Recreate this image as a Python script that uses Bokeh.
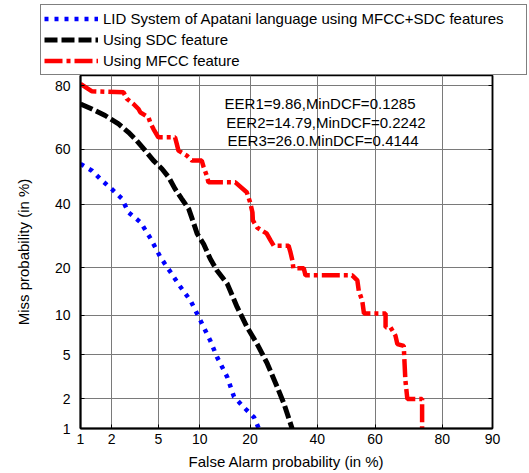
from statistics import NormalDist
from bokeh.plotting import figure
from bokeh.layouts import column, row
from bokeh.models import (FixedTicker, CustomJSTickFormatter, Legend, LegendItem,
                          LinearAxis, Range1d, Label)
from bokeh.embed import file_html
from bokeh.resources import INLINE

_nd = NormalDist()


def probit(pct):
    return _nd.inv_cdf(pct / 100.0)


# ---------------- data (percent) ----------------
x_tick_vals = [1, 2, 5, 10, 20, 40, 60, 80, 90]
y_tick_vals = [1, 2, 5, 10, 20, 40, 60, 80]
x_limits = [1, 90]
y_limits = [1, 82.5]

series_names = ["LID System of Apatani language using MFCC+SDC features",
                "Using SDC feature",
                "Using MFCC feature"]

mfcc_sdc_fa = [1.0, 1.3, 1.62, 2.0, 2.48, 2.83, 3.6, 4.34, 5.2, 6.2, 7.35, 8.65,
               10.1, 11.7, 12.9, 14.9, 16.3, 18.5, 21.0, 22.2]
mfcc_sdc_miss = [54.7, 52.2, 48.6, 45.5, 41.9, 37.1, 33.6, 28.4, 22.8, 18.9, 15.4, 12.6,
                 9.2, 6.5, 4.8, 3.2, 2.1, 1.66, 1.31, 1.0]

sdc_fa = [1.0, 1.3, 1.74, 2.31, 2.83, 3.34, 3.93, 4.58, 5.33, 6.0, 6.7, 7.5, 8.4, 9.0,
          9.6, 10.6, 11.7, 12.9, 14.9, 17.0, 19.3, 21.8, 24.5, 27.3, 29.3, 31.8]
sdc_miss = [74.9, 73.4, 71.4, 68.7, 65.9, 63.0, 59.5, 55.9, 52.9, 49.8, 45.5, 41.9, 38.3, 34.0,
            29.9, 26.7, 22.4, 19.3, 16.1, 11.4, 8.2, 6.1, 4.2, 2.6, 1.8, 1.0]

mfcc_fa = [1.0, 1.29, 2.56, 2.74, 3.13, 3.45, 3.57, 4.17, 4.31, 4.58, 5.0, 6.7, 6.9, 7.1,
           8.15, 8.85, 10.3, 10.6, 11.1, 11.4, 16.6, 19.2, 20.0, 20.6, 20.7, 21.8, 24.3,
           25.4, 26.3, 30.7, 31.3, 31.9, 32.2, 35.5, 36.1, 52.1, 53.9, 54.4, 55.6, 56.2,
           63.5, 63.5, 65.1, 66.7, 67.3, 69.3, 69.5, 69.8, 70.4, 74.7, 74.7]
mfcc_miss = [80.4, 78.5, 78.2, 76.4, 74.9, 73.4, 72.4, 70.8, 69.2, 67.0, 64.2, 64.2, 61.9,
             59.5, 57.7, 55.9, 55.9, 53.5, 50.4, 47.9, 47.9, 44.3, 40.7, 37.0, 34.3, 31.9,
             30.0, 27.8, 26.2, 26.2, 24.2, 21.9, 19.9, 19.9, 18.1, 18.1, 16.9, 14.6, 12.6,
             10.3, 10.3, 8.2, 8.2, 7.1, 6.1, 5.9, 4.5, 3.0, 2.0, 2.0, 1.0]

eer_texts = ["EER1=9.86,MinDCF=0.1285",
             "EER2=14.79,MinDCF=0.2242",
             "EER3=26.0.MinDCF=0.4144"]
eer_x_pct = [14.35, 14.7, 14.95]
eer_y_pct = [75.0, 69.1, 63.0]

# ---------------- styles ----------------
FONT = "Liberation Sans"
styles = [dict(line_color="#0000ff", line_width=4.5, line_dash="4 6"),
          dict(line_color="black", line_width=5, line_dash="13 4"),
          dict(line_color="#ff0000", line_width=4.5, line_dash="18 4 4 4")]
series = [(mfcc_sdc_fa, mfcc_sdc_miss), (sdc_fa, sdc_miss), (mfcc_fa, mfcc_miss)]

# ---------------- main figure ----------------
p = figure(width=529, height=398,
           x_range=Range1d(probit(x_limits[0]), probit(x_limits[1])),
           y_range=Range1d(probit(y_limits[0]), probit(y_limits[1])),
           output_backend="svg", toolbar_location=None,
           min_border_left=80, min_border_right=37,
           min_border_top=0, min_border_bottom=45)
p.background_fill_color = "white"
p.border_fill_color = "white"
p.outline_line_color = "black"
p.outline_line_width = 1.5

xt = [probit(v) for v in x_tick_vals]
yt = [probit(v) for v in y_tick_vals]
fmt_code = """
let best = 0, bd = 1e9;
for (let i = 0; i < vals.length; i++) {
  const d = Math.abs(vals[i] - tick);
  if (d < bd) { bd = d; best = i; }
}
return labs[best];
"""
x_fmt = CustomJSTickFormatter(args=dict(vals=xt, labs=[str(v) for v in x_tick_vals]), code=fmt_code)
y_fmt = CustomJSTickFormatter(args=dict(vals=yt, labs=[str(v) for v in y_tick_vals]), code=fmt_code)
blank_fmt = CustomJSTickFormatter(code="return '';")


def style_axis(ax, ticks, fmt, lw=1.5):
    ax.ticker = FixedTicker(ticks=ticks)
    ax.formatter = fmt
    ax.minor_tick_line_color = None
    ax.major_tick_in = 4
    ax.major_tick_out = 0
    ax.major_tick_line_color = "black"
    ax.axis_line_color = "black"
    ax.axis_line_width = lw
    ax.major_label_text_font = FONT
    ax.major_label_text_font_size = "14px"
    ax.major_label_text_color = "black"
    ax.axis_label_text_font = FONT
    ax.axis_label_text_font_size = "15px"
    ax.axis_label_text_font_style = "normal"
    ax.axis_label_text_color = "black"


xa = p.xaxis[0]
ya = p.yaxis[0]
style_axis(xa, xt, x_fmt, lw=2)
style_axis(ya, yt, y_fmt, lw=2)
xa.axis_label = "False Alarm probability (in %)"
ya.axis_label = "Miss probability (in %)"
xa.major_label_standoff = 5
xa.axis_label_standoff = 6
ya.major_label_standoff = 10
ya.axis_label_standoff = 20

right_ax = LinearAxis()
style_axis(right_ax, yt, blank_fmt, lw=1.5)
right_ax.major_label_standoff = 0
p.add_layout(right_ax, "right")

p.xgrid.ticker = FixedTicker(ticks=xt)
p.ygrid.ticker = FixedTicker(ticks=yt)
for g in (p.xgrid[0], p.ygrid[0]):
    g.grid_line_color = "#7a7a7a"
    g.grid_line_width = 1
    g.grid_line_alpha = 1.0

for (fa, miss), st in zip(series, styles):
    p.line([probit(v) for v in fa], [probit(v) for v in miss], **st)

for t, xv, yv in zip(eer_texts, eer_x_pct, eer_y_pct):
    p.add_layout(Label(x=probit(xv), y=probit(yv), text=t, text_font=FONT,
                       text_font_size="15px", text_color="black", text_baseline="middle",
                       text_align="left"))

# ---------------- legend strip (separate figure above the plot) ----------------
lg = figure(width=529, height=75, x_range=Range1d(50, 51), y_range=Range1d(50, 51),
            output_backend="svg", toolbar_location=None,
            x_axis_location=None, y_axis_location=None,
            min_border=0, min_border_left=0, min_border_right=0,
            min_border_top=0, min_border_bottom=0)
lg.grid.visible = False
lg.outline_line_color = None
lg.background_fill_color = "white"
lg.border_fill_color = "white"
# same series drawn outside the strip's view; used only for the legend samples
lg_renderers = [lg.line([probit(v) for v in fa], [probit(v) for v in miss], **st)
                for (fa, miss), st in zip(series, styles)]
legend = Legend(items=[LegendItem(label=n, renderers=[r])
                       for n, r in zip(series_names, lg_renderers)],
                location=(40, 0), orientation="vertical",
                glyph_width=54, glyph_height=21, label_height=21, label_width=420,
                label_standoff=5, spacing=0, padding=3, margin=0,
                label_text_font=FONT, label_text_font_size="15px",
                label_text_color="black",
                border_line_color="black", border_line_width=1,
                background_fill_color="white", background_fill_alpha=1.0)
lg.add_layout(legend, "center")

layout = column(row(lg, spacing=0), p, spacing=0)
open("out.html", "w").write(file_html(layout, INLINE))
